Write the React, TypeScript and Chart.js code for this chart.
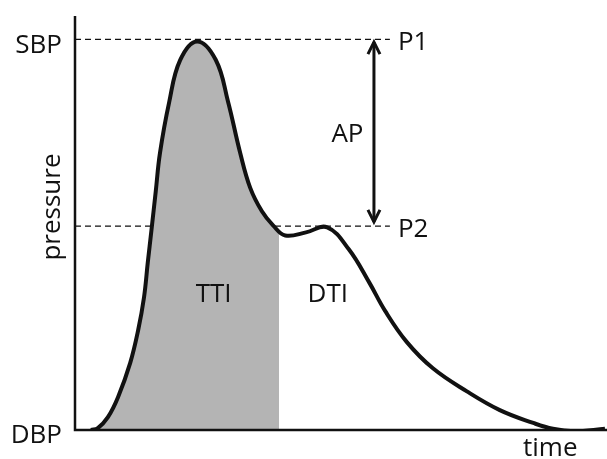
import React, { useEffect, useRef } from 'react';
import { Chart, registerables } from 'chart.js';

Chart.register(...registerables);

// Aortic pressure waveform (time: arbitrary 0-100, pressure: DBP=0, SBP=100)
const curveTime = [3.0, 4.3, 6.2, 8.1, 10.4, 11.9, 13.0, 13.7, 14.4, 15.2, 16.0, 17.7, 19.8, 23.0, 26.5, 28.8, 31.1, 33.0, 35.2, 37.3, 39.6, 43.5, 47.5, 51.6, 55.4, 58.4, 62.5, 67.4, 73.8, 80.0, 86.3, 90.0, 94.0, 99.8];
const curvePressure = [0, 0.5, 3.3, 8.4, 17.2, 25.6, 34.0, 42.8, 51.2, 61.0, 70.9, 83.7, 94.7, 99.5, 94.8, 84.2, 71.0, 62.0, 56.0, 52.4, 49.8, 50.6, 51.9, 46.2, 37.8, 30.5, 22.5, 15.8, 9.9, 5.1, 1.8, 0.3, -0.3, 0.3];

const levelLabels = ['P1', 'P2'];
const levelPressure = [100, 52.2];
const dashEndTime = 59.3;
const ttiEndTime = 38.4;
const apTime = 56.3;
const apPressure = [53.3, 99.3];

const regionLabels = ['TTI', 'DTI'];
const regionTime = [26.1, 47.6];
const regionPressure = 32.8;

const FONT_FAMILY = '"Open Sans", sans-serif';
const INK = '#111111';
const SHADE = '#b4b4b4';

export default function App() {
  const ref = useRef<HTMLCanvasElement>(null);

  useEffect(() => {
    const canvas = ref.current;
    if (!canvas) return;

    const annotations = {
      id: 'annotations',
      afterDatasetsDraw(chart: any) {
        const { ctx, chartArea: a, scales } = chart;
        const x = scales.x;
        const y = scales.y;
        ctx.save();
        // axes
        ctx.strokeStyle = INK;
        ctx.lineWidth = 2.5;
        ctx.beginPath();
        ctx.moveTo(a.left, a.top);
        ctx.lineTo(a.left, a.bottom);
        ctx.lineTo(a.right + 1, a.bottom);
        ctx.stroke();

        // arrow heads
        const ax = x.getPixelForValue(apTime);
        const yTop = y.getPixelForValue(apPressure[1]);
        const yBot = y.getPixelForValue(apPressure[0]);
        ctx.lineWidth = 3;
        ctx.lineJoin = 'miter';
        ctx.beginPath();
        ctx.moveTo(ax - 6, yTop + 12);
        ctx.lineTo(ax, yTop);
        ctx.lineTo(ax + 6, yTop + 12);
        ctx.moveTo(ax - 6, yBot - 12);
        ctx.lineTo(ax, yBot);
        ctx.lineTo(ax + 6, yBot - 12);
        ctx.stroke();

        // text
        ctx.fillStyle = INK;
        ctx.font = `26px ${FONT_FAMILY}`;
        ctx.textBaseline = 'alphabetic';

        ctx.textAlign = 'right';
        ctx.fillText('SBP', a.left - 13, y.getPixelForValue(100) + 14);
        ctx.fillText('DBP', a.left - 13, a.bottom + 13);

        ctx.textAlign = 'left';
        const dx = x.getPixelForValue(dashEndTime) + 8;
        levelLabels.forEach((t, i) => {
          ctx.fillText(t, dx, y.getPixelForValue(levelPressure[i]) + 11);
        });

        ctx.textAlign = 'center';
        ctx.fillText('AP', ax - 26.5, (yTop + yBot) / 2 + 10);
        regionLabels.forEach((t, i) => {
          ctx.fillText(t, x.getPixelForValue(regionTime[i]), y.getPixelForValue(regionPressure));
        });
        ctx.fillText('time', x.getPixelForValue(89.5), a.bottom + 26);

        ctx.translate(60, (a.top + a.bottom) / 2 - 16);
        ctx.rotate(-Math.PI / 2);
        ctx.fillText('pressure', 0, 0);
        ctx.restore();
      },
    };

    const shadeColor = (c: any) => {
      const chart = c.chart;
      const a = chart.chartArea;
      if (!a || !chart.scales.x) return SHADE;
      const px = chart.scales.x.getPixelForValue(ttiEndTime);
      const f = Math.min(1, Math.max(0, (px - a.left) / (a.right - a.left)));
      const g = chart.ctx.createLinearGradient(a.left, 0, a.right, 0);
      g.addColorStop(0, SHADE);
      g.addColorStop(f, SHADE);
      g.addColorStop(f, 'rgba(255,255,255,0)');
      g.addColorStop(1, 'rgba(255,255,255,0)');
      return g;
    };

    const chart = new Chart(canvas, {
      type: 'line',
      data: {
        datasets: [
          {
            label: 'pressure',
            data: curveTime.map((t, i) => ({ x: t, y: curvePressure[i] })),
            borderColor: INK,
            borderWidth: 4,
            pointRadius: 0,
            tension: 0.4,
            fill: 'origin',
            backgroundColor: shadeColor,
            order: 0,
          },
          ...levelPressure.map((p, i) => ({
            label: levelLabels[i],
            data: [{ x: 0, y: p }, { x: dashEndTime, y: p }],
            borderColor: INK,
            borderWidth: 1.3,
            borderDash: [6, 4],
            pointRadius: 0,
            fill: false,
            order: 2,
          })),
          {
            label: 'AP',
            data: [{ x: apTime, y: apPressure[0] }, { x: apTime, y: apPressure[1] }],
            borderColor: INK,
            borderWidth: 3,
            pointRadius: 0,
            fill: false,
            order: 1,
          },
        ] as any,
      },
      options: {
        animation: false,
        responsive: false,
        layout: { padding: { left: 75, right: 1, top: 16, bottom: 29 } },
        plugins: { legend: { display: false }, tooltip: { enabled: false }, filler: { propagate: false } },
        scales: {
          x: { type: 'linear', min: 0, max: 100, display: false },
          y: { type: 'linear', min: 0, max: 106, display: false },
        },
      },
      plugins: [annotations],
    });

    return () => chart.destroy();
  }, []);

  return (
    <div style={{ position: 'fixed', left: 0, top: 0, width: 607, height: 459, background: '#fff' }}>
      <canvas ref={ref} width={607} height={459} />
    </div>
  );
}
